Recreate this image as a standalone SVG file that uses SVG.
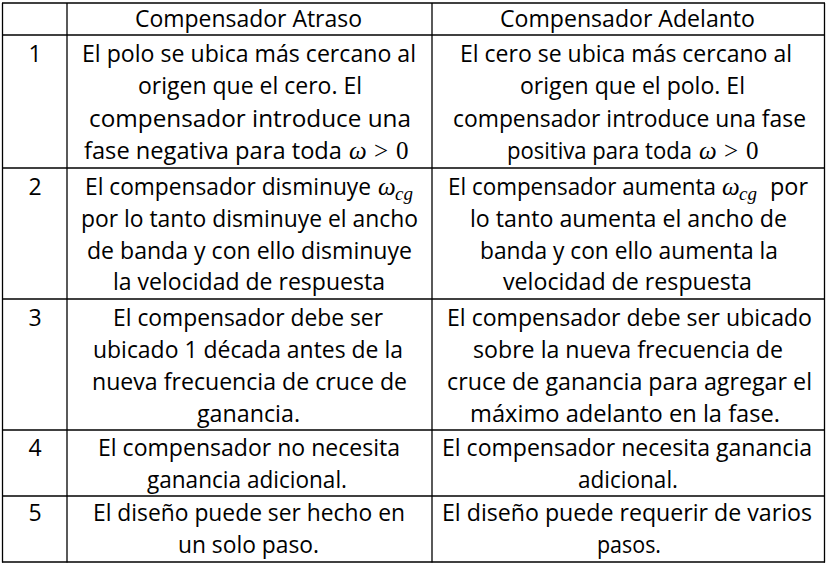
<svg xmlns="http://www.w3.org/2000/svg" width="829" height="566" viewBox="0 0 829 566">
<style>
.t{font-family:"Open Sans","Liberation Sans",sans-serif;font-size:23px;fill:#000}
.m{font-family:"Liberation Serif","DejaVu Serif",serif;font-style:italic;font-size:25px;fill:#000}
.r{font-family:"Liberation Serif","DejaVu Serif",serif;font-size:25px;fill:#000}
.s{font-family:"Liberation Serif","DejaVu Serif",serif;font-style:italic;font-size:19px;fill:#000}
.g line{stroke:#000;stroke-width:1.3}
</style>
<rect width="829" height="566" fill="#fff"/>
<g id="grid" class="g">
<line x1="2.5" y1="3" x2="2.5" y2="562.5"/>
<line x1="67" y1="3" x2="67" y2="562.5"/>
<line x1="432" y1="3" x2="432" y2="562.5"/>
<line x1="824.5" y1="3" x2="824.5" y2="562.5"/>
<line x1="2" y1="3" x2="825" y2="3"/>
<line x1="2" y1="35" x2="825" y2="35"/>
<line x1="2" y1="168" x2="825" y2="168"/>
<line x1="2" y1="299" x2="825" y2="299"/>
<line x1="2" y1="430" x2="825" y2="430"/>
<line x1="2" y1="496" x2="825" y2="496"/>
<line x1="2" y1="562" x2="825" y2="562"/>
</g>
<g id="header">
<text class="t" x="135" y="27.3" textLength="227" lengthAdjust="spacingAndGlyphs">Compensador Atraso</text>
<text class="t" x="500" y="27.3" textLength="255" lengthAdjust="spacingAndGlyphs">Compensador Adelanto</text>
</g>
<g id="numbers">
<text class="t" x="35" y="61.7" text-anchor="middle">1</text>
<text class="t" x="35" y="195" text-anchor="middle">2</text>
<text class="t" x="35" y="326" text-anchor="middle">3</text>
<text class="t" x="35" y="456" text-anchor="middle">4</text>
<text class="t" x="35" y="521" text-anchor="middle">5</text>
</g>
<g id="r1c1">
<text class="t" x="82" y="61.7" textLength="334" lengthAdjust="spacingAndGlyphs">El polo se ubica más cercano al</text>
<text class="t" x="138" y="94.2" textLength="224" lengthAdjust="spacingAndGlyphs">origen que el cero. El</text>
<text class="t" x="89" y="126.8" textLength="322" lengthAdjust="spacingAndGlyphs">compensador introduce una</text>
<text class="t" x="84" y="159.3" textLength="258" lengthAdjust="spacingAndGlyphs">fase negativa para toda</text>
<text class="m" x="349" y="159.3">ω</text>
<text class="r" x="374" y="159.3">&gt;</text>
<text class="r" x="396" y="159.3">0</text>
</g>
<g id="r1c2">
<text class="t" x="460" y="61.7" textLength="332" lengthAdjust="spacingAndGlyphs">El cero se ubica más cercano al</text>
<text class="t" x="520" y="94.2" textLength="225" lengthAdjust="spacingAndGlyphs">origen que el polo. El</text>
<text class="t" x="453" y="126.8" textLength="353" lengthAdjust="spacingAndGlyphs">compensador introduce una fase</text>
<text class="t" x="507" y="159.3" textLength="185" lengthAdjust="spacingAndGlyphs">positiva para toda</text>
<text class="m" x="699" y="159.3">ω</text>
<text class="r" x="724" y="159.3">&gt;</text>
<text class="r" x="746" y="159.3">0</text>
</g>
<g id="r2c1">
<text class="t" x="85" y="195" textLength="286" lengthAdjust="spacingAndGlyphs">El compensador disminuye</text>
<text class="m" x="378" y="195">ω</text>
<text class="s" x="395" y="200">cg</text>
<text class="t" x="81" y="227" textLength="337" lengthAdjust="spacingAndGlyphs">por lo tanto disminuye el ancho</text>
<text class="t" x="87" y="258.5" textLength="325" lengthAdjust="spacingAndGlyphs">de banda y con ello disminuye</text>
<text class="t" x="113" y="290" textLength="272" lengthAdjust="spacingAndGlyphs">la velocidad de respuesta</text>
</g>
<g id="r2c2">
<text class="t" x="448" y="195" textLength="268" lengthAdjust="spacingAndGlyphs">El compensador aumenta</text>
<text class="m" x="722" y="195">ω</text>
<text class="s" x="739" y="200">cg</text>
<text class="t" x="770" y="195" textLength="38" lengthAdjust="spacingAndGlyphs">por</text>
<text class="t" x="470" y="227" textLength="317" lengthAdjust="spacingAndGlyphs">lo tanto aumenta el ancho de</text>
<text class="t" x="480" y="258.5" textLength="298" lengthAdjust="spacingAndGlyphs">banda y con ello aumenta la</text>
<text class="t" x="503" y="290" textLength="249" lengthAdjust="spacingAndGlyphs">velocidad de respuesta</text>
</g>
<g id="r3c1">
<text class="t" x="113" y="326" textLength="270" lengthAdjust="spacingAndGlyphs">El compensador debe ser</text>
<text class="t" x="93" y="358" textLength="310" lengthAdjust="spacingAndGlyphs">ubicado 1 década antes de la</text>
<text class="t" x="92" y="390" textLength="315" lengthAdjust="spacingAndGlyphs">nueva frecuencia de cruce de</text>
<text class="t" x="197" y="421.5" textLength="103" lengthAdjust="spacingAndGlyphs">ganancia.</text>
</g>
<g id="r3c2">
<text class="t" x="447" y="326" textLength="365" lengthAdjust="spacingAndGlyphs">El compensador debe ser ubicado</text>
<text class="t" x="473" y="358" textLength="310" lengthAdjust="spacingAndGlyphs">sobre la nueva frecuencia de</text>
<text class="t" x="447" y="390" textLength="365" lengthAdjust="spacingAndGlyphs">cruce de ganancia para agregar el</text>
<text class="t" x="470" y="421.5" textLength="310" lengthAdjust="spacingAndGlyphs">máximo adelanto en la fase.</text>
</g>
<g id="r4c1">
<text class="t" x="98" y="456" textLength="302" lengthAdjust="spacingAndGlyphs">El compensador no necesita</text>
<text class="t" x="147" y="488" textLength="200" lengthAdjust="spacingAndGlyphs">ganancia adicional.</text>
</g>
<g id="r4c2">
<text class="t" x="442" y="456" textLength="370" lengthAdjust="spacingAndGlyphs">El compensador necesita ganancia</text>
<text class="t" x="578" y="488" textLength="100" lengthAdjust="spacingAndGlyphs">adicional.</text>
</g>
<g id="r5c1">
<text class="t" x="93" y="521" textLength="312" lengthAdjust="spacingAndGlyphs">El diseño puede ser hecho en</text>
<text class="t" x="178" y="553" textLength="141" lengthAdjust="spacingAndGlyphs">un solo paso.</text>
</g>
<g id="r5c2">
<text class="t" x="442" y="521" textLength="370" lengthAdjust="spacingAndGlyphs">El diseño puede requerir de varios</text>
<text class="t" x="597" y="553" textLength="64" lengthAdjust="spacingAndGlyphs">pasos.</text>
</g>
</svg>
